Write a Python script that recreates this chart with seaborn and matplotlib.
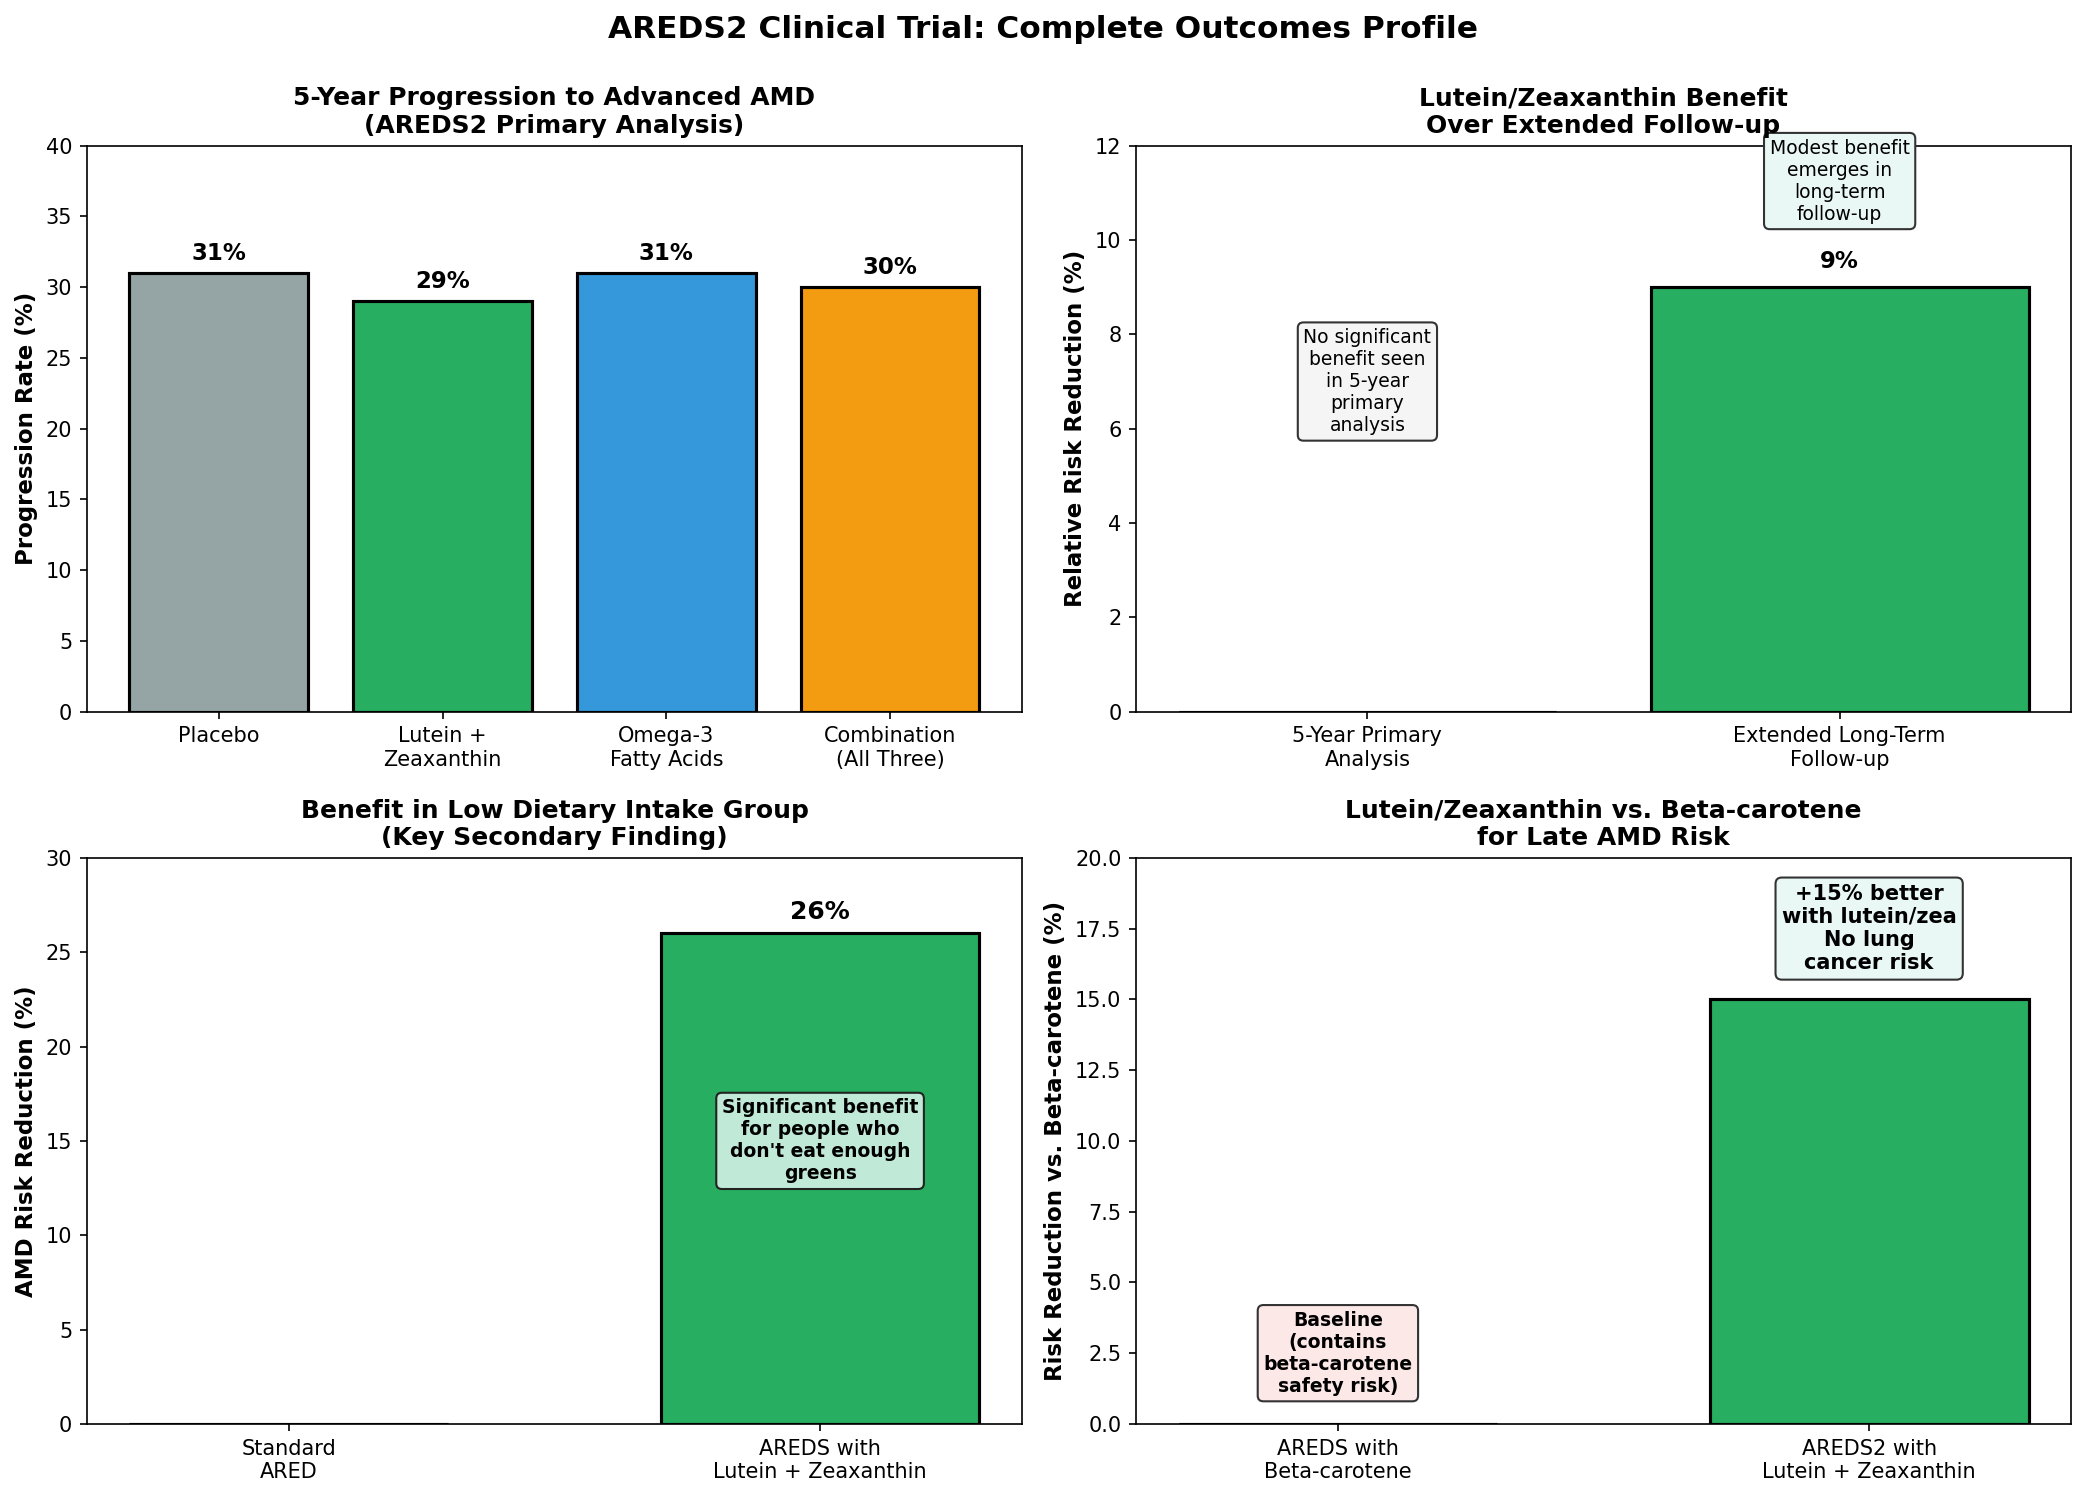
import numpy as np
import pandas as pd
import matplotlib
matplotlib.use("Agg")
import matplotlib.pyplot as plt
import seaborn as sns

# panel 1
groups = ["Placebo", "Lutein +\nZeaxanthin", "Omega-3\nFatty Acids", "Combination\n(All Three)"]
progression = [31, 29, 31, 30]
colors1 = ["#95a5a6", "#27ae60", "#3498db", "#f39c12"]

# panel 2
followup = ["5-Year Primary\nAnalysis", "Extended Long-Term\nFollow-up"]
rrr = [0, 9]

# panel 3
formulas = ["Standard\nARED", "AREDS with\nLutein + Zeaxanthin"]
low_intake = [0, 26]

# panel 4
compare = ["AREDS with\nBeta-carotene", "AREDS2 with\nLutein + Zeaxanthin"]
vs_beta = [0, 15]

green = "#27ae60"

sns.set_style("white", rc={"text.color": "black", "axes.labelcolor": "black",
                           "xtick.color": "black", "ytick.color": "black",
                           "axes.edgecolor": "black"})
plt.rcParams["font.family"] = ["DejaVu Sans"]

fig, axes = plt.subplots(2, 2, figsize=(13.9, 9.98), dpi=150)


def bars(ax, cats, vals, cols, width, xlim):
    df = pd.DataFrame({"cat": cats, "val": vals})
    sns.barplot(data=df, x="cat", y="val", hue="cat", palette=cols, legend=False,
                edgecolor="black", linewidth=1.5, width=width, saturation=1, ax=ax)
    ax.set_xlim(*xlim)
    ax.set_xlabel("")
    for s in ax.spines.values():
        s.set_visible(True)
        s.set_color("black")
        s.set_linewidth(0.8)
    ax.tick_params(axis="both", which="major", length=3.5, width=0.8, labelsize=10,
                   left=True, bottom=True, colors="black")


# 1
ax = axes[0, 0]
bars(ax, groups, progression, colors1, 0.8, (-0.59, 3.59))
ax.set_ylim(0, 40)
ax.set_ylabel("Progression Rate (%)", fontsize=11, fontweight="bold")
ax.set_title("5-Year Progression to Advanced AMD\n(AREDS2 Primary Analysis)", fontsize=12, fontweight="bold")
for i, v in enumerate(progression):
    ax.text(i, v + 0.6, f"{v}%", ha="center", va="bottom", fontsize=11, fontweight="bold")

# 2
ax = axes[0, 1]
bars(ax, followup, rrr, [green, green], 0.8, (-0.49, 1.49))
ax.set_ylim(0, 12)
ax.set_ylabel("Relative Risk Reduction (%)", fontsize=11, fontweight="bold")
ax.set_title("Lutein/Zeaxanthin Benefit\nOver Extended Follow-up", fontsize=12, fontweight="bold")
ax.text(1, rrr[1] + 0.3, f"{rrr[1]}%", ha="center", va="bottom", fontsize=11, fontweight="bold")
ax.text(0, 7, "No significant\nbenefit seen\nin 5-year\nprimary\nanalysis", ha="center", va="center", fontsize=9,
        bbox=dict(boxstyle="round,pad=0.3", facecolor="#f5f5f5", edgecolor="#333333"))
ax.text(1, 11.25, "Modest benefit\nemerges in\nlong-term\nfollow-up", ha="center", va="center", fontsize=9,
        bbox=dict(boxstyle="round,pad=0.3", facecolor="#eaf8f5", edgecolor="#333333"))

# 3
ax = axes[1, 0]
bars(ax, formulas, low_intake, [green, green], 0.6, (-0.38, 1.38))
ax.set_ylim(0, 30)
ax.set_ylabel("AMD Risk Reduction (%)", fontsize=11, fontweight="bold")
ax.set_title("Benefit in Low Dietary Intake Group\n(Key Secondary Finding)", fontsize=12, fontweight="bold")
ax.text(1, low_intake[1] + 0.5, f"{low_intake[1]}%", ha="center", va="bottom", fontsize=12, fontweight="bold")
ax.text(1, 15, "Significant benefit\nfor people who\ndon't eat enough\ngreens", ha="center", va="center",
        fontsize=9, fontweight="bold",
        bbox=dict(boxstyle="round,pad=0.3", facecolor="#c1e9d7", edgecolor="#222222"))

# 4
ax = axes[1, 1]
bars(ax, compare, vs_beta, [green, green], 0.6, (-0.38, 1.38))
ax.set_ylim(0, 20)
ax.set_ylabel("Risk Reduction vs. Beta-carotene (%)", fontsize=11, fontweight="bold")
ax.set_title("Lutein/Zeaxanthin vs. Beta-carotene\nfor Late AMD Risk", fontsize=12, fontweight="bold")
ax.text(0, 2.5, "Baseline\n(contains\nbeta-carotene\nsafety risk)", ha="center", va="center",
        fontsize=9, fontweight="bold",
        bbox=dict(boxstyle="round,pad=0.3", facecolor="#fde8e8", edgecolor="#333333"))
ax.text(1, 17.5, "+15% better\nwith lutein/zea\nNo lung\ncancer risk", ha="center", va="center",
        fontsize=10, fontweight="bold",
        bbox=dict(boxstyle="round,pad=0.3", facecolor="#eaf8f5", edgecolor="#333333"))

fig.suptitle("AREDS2 Clinical Trial: Complete Outcomes Profile", fontsize=15, fontweight="bold", y=0.99)
fig.subplots_adjust(left=0.0417, right=0.9933, top=0.9027, bottom=0.0488, wspace=0.122, hspace=0.258)
plt.savefig("out.png", dpi=150)
